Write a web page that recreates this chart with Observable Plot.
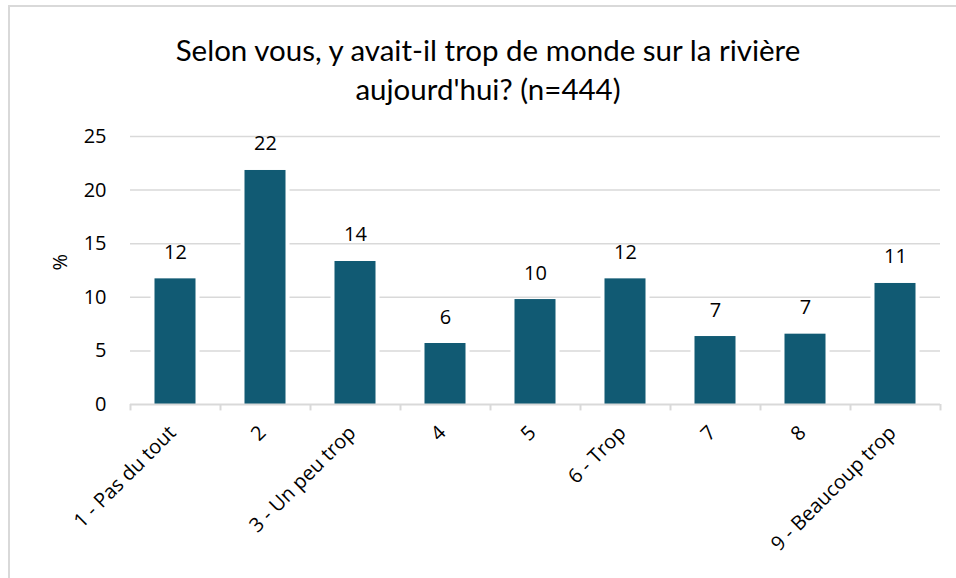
<!DOCTYPE html>
<html>
<head>
<meta charset="utf-8">
<script src="https://cdn.jsdelivr.net/npm/d3@7"></script>
<script src="https://cdn.jsdelivr.net/npm/@observablehq/plot@0.6"></script>
<style>
  html, body { margin: 0; padding: 0; background: #fff; width: 956px; height: 578px; overflow: hidden; }
  #frame { position: absolute; left: 8px; top: 5px; width: 960px; height: 590px;
           border-left: 2px solid #d9d9d9; border-top: 2px solid #d9d9d9; }
  #title { position: absolute; left: 0; width: 976px; top: 30px; text-align: center;
           font-family: Lato, sans-serif; font-size: 29.5px; line-height: 39px; color: #000; }
  #chart { position: absolute; left: 0; top: 110px; }
</style>
</head>
<body>
<div id="frame"></div>
<div id="title">Selon vous, y avait-il trop de monde sur la rivière<br>aujourd'hui? (n=444)</div>
<div id="chart"></div>
<script>
const categories = ["1 - Pas du tout", "2", "3 - Un peu trop", "4", "5", "6 - Trop", "7", "8", "9 - Beaucoup trop"];
const values = [11.72, 21.83, 13.34, 5.69, 9.79, 11.72, 6.34, 6.56, 11.29];
const labels = ["12", "22", "14", "6", "10", "12", "7", "7", "11"];
const yTicks = [0, 5, 10, 15, 20, 25];
const gridTicks = [5, 10, 15, 20, 25];

const data = categories.map((c, i) => ({cat: c, value: values[i], label: labels[i]}));

const barColor = "#115a73";
const gridColor = "#d9d9d9";
const font = "'Open Sans', sans-serif";

const plot = Plot.plot({
  width: 956,
  height: 468,
  marginTop: 26,
  marginBottom: 174,
  marginLeft: 130,
  marginRight: 16,
  style: { fontFamily: font, fontSize: "20px", color: "#000", background: "transparent" },
  x: { domain: categories, padding: 0, label: null },
  y: { domain: [0, 25], label: null },
  marks: [
    Plot.ruleY(gridTicks, { stroke: gridColor, strokeWidth: 1.5 }),
    Plot.barY(data, { x: "cat", y: "value", fill: "white", insetLeft: 20.5, insetRight: 20.5 }),
    Plot.barY(data, { x: "cat", y: "value", fill: barColor, insetLeft: 24.5, insetRight: 24.5 }),
    Plot.ruleY([0], { stroke: gridColor, strokeWidth: 2 }),
    Plot.ruleX(categories, { x: d => d, dx: -45, y1: 0, y2: -0.6, stroke: gridColor, strokeWidth: 2 }),
    Plot.ruleX(categories.slice(-1), { x: d => d, dx: 45, y1: 0, y2: -0.6, stroke: gridColor, strokeWidth: 2 }),
    Plot.text(data, { x: "cat", y: "value", text: "label", dy: -20, lineAnchor: "bottom", fontSize: 20, fill: "#000" }),
    Plot.axisY(yTicks, { tickSize: 0, tickPadding: 24, fontSize: 20, label: null }),
    Plot.text(["%"], { frameAnchor: "left", dx: -70, rotate: -90, fontSize: 20, fill: "#000" }),
    Plot.axisX({ tickSize: 0, tickRotate: -45, tickPadding: 25, dx: -3, fontSize: 20, label: null })
  ]
});
document.getElementById("chart").appendChild(plot);
</script>
</body>
</html>
